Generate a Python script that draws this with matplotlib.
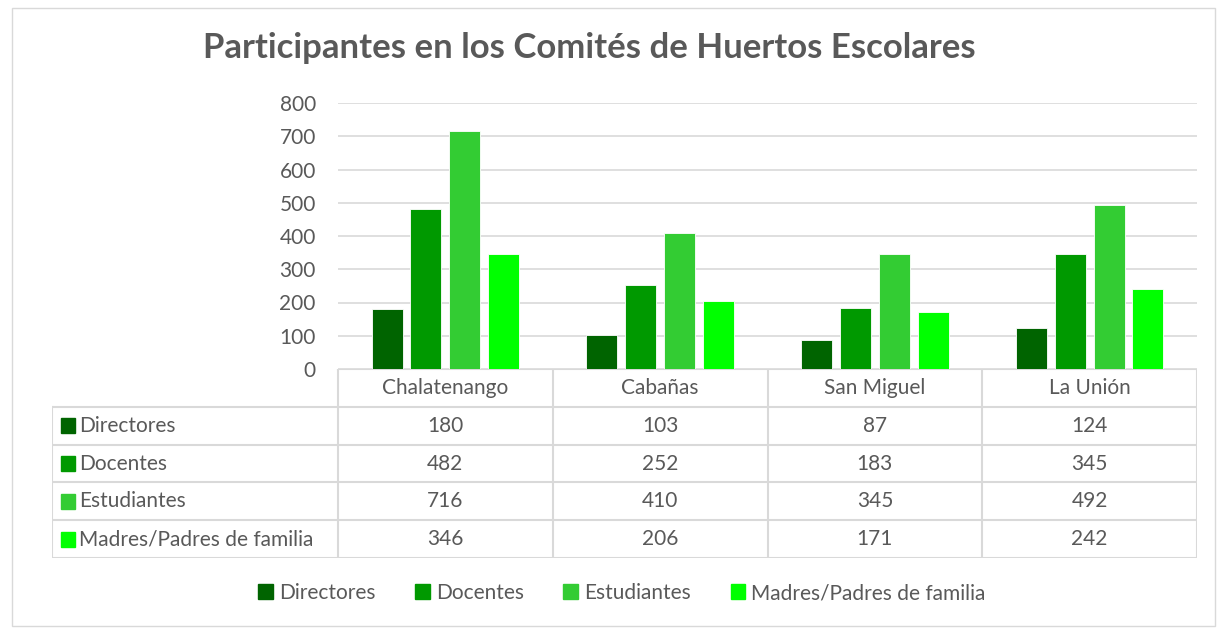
import matplotlib
matplotlib.use("Agg")
from matplotlib import pyplot as plt
from matplotlib.patches import Rectangle
from matplotlib.lines import Line2D
import numpy as np

categories = ["Chalatenango", "Cabañas", "San Miguel", "La Unión"]
series = ["Directores", "Docentes", "Estudiantes", "Madres/Padres de familia"]
directores = [180, 103, 87, 124]
docentes = [482, 252, 183, 345]
estudiantes = [716, 410, 345, 492]
madres_padres = [346, 206, 171, 242]
values = [directores, docentes, estudiantes, madres_padres]
colors = ["#006400", "#009900", "#33CC33", "#00FF00"]

W, H = 1218, 630
TEXT = "#595959"
GRID = "#D9D9D9"
FS = 15
plt.rcParams['font.family'] = ['Lato', 'DejaVu Sans']


def fx(px):
    return px / W


def fy(py):
    return 1 - py / H


fig = plt.figure(figsize=(W / 100, H / 100), dpi=100)
fig.patch.set_facecolor("white")
fig.add_artist(Rectangle((fx(12), fy(626)), fx(1203), 618 / H, transform=fig.transFigure,
                         fill=False, edgecolor=GRID, linewidth=1))

# bar plot area
left, right, top, bottom = 338, 1197, 103, 369
ax = fig.add_axes([fx(left), fy(bottom), fx(right - left), (bottom - top) / H])
x = np.arange(len(categories))
bw = 0.144
step = 0.181
for i, (vals, c) in enumerate(zip(values, colors)):
    ax.bar(x + (i - 1.5) * step, vals, bw, color=c, edgecolor="white", linewidth=0.6, zorder=3)
ax.set_xlim(-0.5, len(categories) - 0.5)
ax.set_ylim(0, 800)
ax.set_yticks(range(0, 801, 100))
ax.yaxis.grid(True, color=GRID, linewidth=1.2, zorder=0)
ax.set_xticks([])
for s in ax.spines.values():
    s.set_visible(False)
ax.tick_params(axis="y", length=0, labelsize=FS, labelcolor=TEXT, pad=16)

# data table
tleft = 52
tax = fig.add_axes([fx(tleft), fy(558), fx(right - tleft), (558 - bottom) / H])
tax.set_xlim(0, right - tleft)
tax.set_ylim(len(series) + 1, 0)
tax.axis("off")
col0 = left - tleft
colw = (right - left) / len(categories)
lc = dict(color=GRID, linewidth=1.5)
# header row
tax.add_line(Line2D([col0, right - tleft], [0, 0], **lc))
for j in range(len(categories) + 1):
    tax.add_line(Line2D([col0 + j * colw] * 2, [0, len(series) + 1], **lc))
tax.add_line(Line2D([0, 0], [1, len(series) + 1], **lc))
for r in range(1, len(series) + 2):
    tax.add_line(Line2D([0, right - tleft], [r, r], **lc))
for j, cat in enumerate(categories):
    tax.text(col0 + (j + 0.5) * colw, 0.5, cat, ha="center", va="center", fontsize=FS, color=TEXT)
for i, (name, vals, c) in enumerate(zip(series, values, colors)):
    yy = i + 1.5
    tax.add_patch(Rectangle((9, yy - 0.2), 14, 0.4, color=c))
    tax.text(27, yy, name, ha="left", va="center", fontsize=FS, color=TEXT)
    for j, v in enumerate(vals):
        tax.text(col0 + (j + 0.5) * colw, yy, str(v), ha="center", va="center", fontsize=FS, color=TEXT)

fig.text(fx(589), fy(48), "Participantes en los Comités de Huertos Escolares", ha="center", va="center",
         fontsize=25, fontweight="bold", color=TEXT)

handles = [Rectangle((0, 0), 1, 1, color=c) for c in colors]
fig.legend(handles, series, loc="center", bbox_to_anchor=(fx(622), fy(593)), ncol=4, frameon=False,
           fontsize=FS, labelcolor=TEXT, handlelength=0.7, handleheight=0.7, handletextpad=0.3,
           columnspacing=1.9)

fig.savefig("out.png", dpi=100, facecolor="white")
